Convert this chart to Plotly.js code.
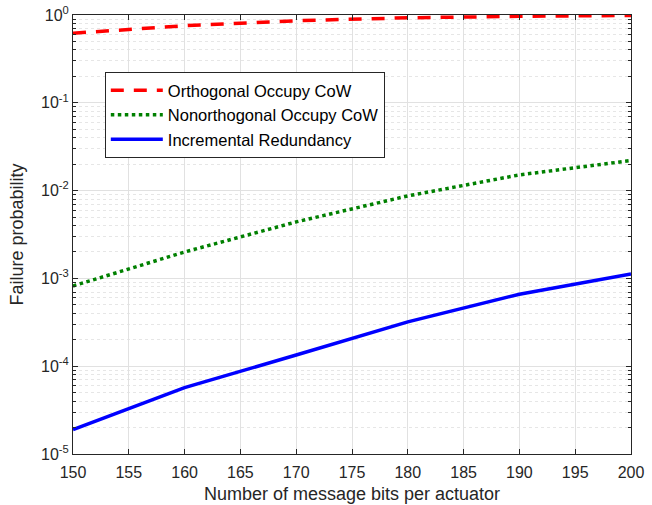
<!DOCTYPE html>
<html>
<head>
<meta charset="utf-8">
<script src="https://cdn.plot.ly/plotly-3.0.1.min.js"></script>
<style>html,body{margin:0;padding:0;background:#fff;}#chart{width:652px;height:505px;}</style>
</head>
<body>
<div id="chart"></div>
<script>
const bits = [150, 160, 170, 180, 190, 200];
const orthogonal = [0.62, 0.755, 0.86, 0.93, 0.966, 0.99];
const nonorthogonal = [8.2e-4, 2.0e-3, 4.4e-3, 8.7e-3, 1.51e-2, 2.2e-2];
const incremental = [1.9e-5, 5.7e-5, 1.34e-4, 3.2e-4, 6.6e-4, 1.12e-3];
const seriesNames = ['Orthogonal Occupy CoW', 'Nonorthogonal Occupy CoW', 'Incremental Redundancy'];
const xTicks = [150, 155, 160, 165, 170, 175, 180, 185, 190, 195, 200];
const yTickVals = [1e-5, 1e-4, 1e-3, 1e-2, 1e-1, 1];
const yTickText = ['10<sup>-5</sup>', '10<sup>-4</sup>', '10<sup>-3</sup>', '10<sup>-2</sup>', '10<sup>-1</sup>', '10<sup>0</sup>'];

const font = 'Liberation Sans, Arial, Helvetica, sans-serif';
const axisColor = '#262626';

const traces = [
  {x: bits, y: orthogonal, name: seriesNames[0], mode: 'lines',
   line: {color: '#ff0000', width: 3.5, dash: '13px,10px'}},
  {x: bits, y: nonorthogonal, name: seriesNames[1], mode: 'lines',
   line: {color: '#008000', width: 3.5, dash: 'dot'}},
  {x: bits, y: incremental, name: seriesNames[2], mode: 'lines',
   line: {color: '#0000ff', width: 3.5}}
];

const layout = {
  width: 652, height: 505,
  margin: {l: 73, r: 21, t: 15, b: 51},
  paper_bgcolor: '#ffffff', plot_bgcolor: '#ffffff',
  font: {family: font, size: 16, color: axisColor},
  showlegend: true,
  legend: {x: 0.057, y: 0.87, xanchor: 'left', yanchor: 'top',
    bgcolor: '#ffffff', bordercolor: axisColor, borderwidth: 1,
    font: {family: font, size: 16.5, color: '#000000'},
    itemwidth: 52, tracegroupgap: 0},
  xaxis: {
    range: [150, 200], tickmode: 'array', tickvals: xTicks,
    ticks: 'inside', ticklen: 5, tickcolor: axisColor,
    showline: true, linecolor: axisColor, linewidth: 1, mirror: 'ticks',
    showgrid: true, gridcolor: '#e1e1e1', gridwidth: 1, zeroline: false,
    tickfont: {size: 16, color: axisColor}, ticklabelstandoff: 4,
    title: {text: 'Number of message bits per actuator', font: {size: 18, color: axisColor}, standoff: 7}
  },
  yaxis: {
    type: 'log', range: [-5, 0], tickmode: 'array', tickvals: yTickVals, ticktext: yTickText,
    ticks: 'inside', ticklen: 5, tickcolor: axisColor,
    showline: true, linecolor: axisColor, linewidth: 1, mirror: 'ticks',
    showgrid: true, gridcolor: '#e1e1e1', gridwidth: 1, zeroline: false,
    tickfont: {size: 16, color: axisColor},
    minor: {dtick: 'D1', ticks: 'inside', ticklen: 3, tickcolor: axisColor,
            showgrid: true, gridcolor: '#e6e6e6', griddash: 'dot', gridwidth: 1},
    title: {text: 'Failure probability', font: {size: 18, color: axisColor}, standoff: 12}
  }
};

Plotly.newPlot('chart', traces, layout, {displayModeBar: false, staticPlot: true});
</script>
</body>
</html>
